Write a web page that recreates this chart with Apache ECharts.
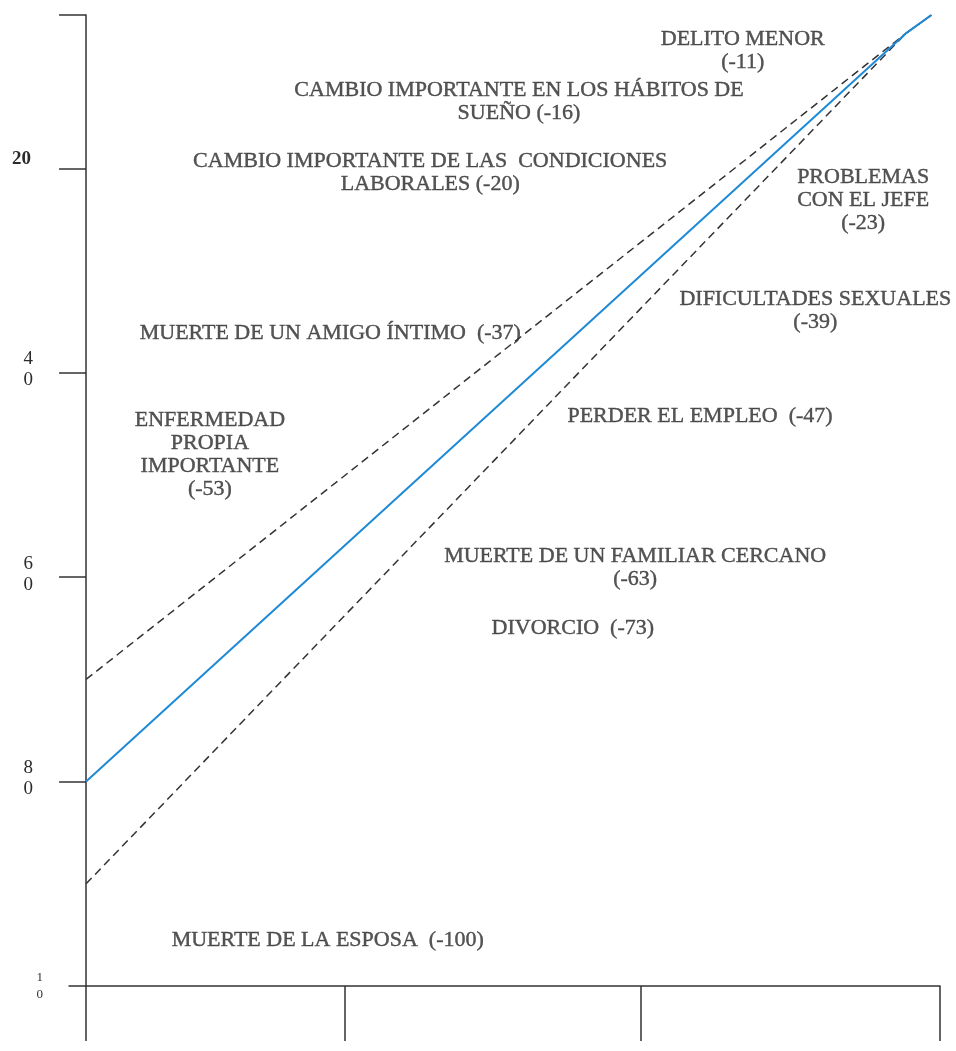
<!DOCTYPE html>
<html>
<head>
<meta charset="utf-8">
<script src="https://cdn.jsdelivr.net/npm/echarts@6/dist/echarts.min.js"></script>
<style>
html,body{margin:0;padding:0;background:#fff;}
#chart{width:956px;height:1051px;}
</style>
</head>
<body>
<div id="chart"></div>
<script>
// Line data (x: horizontal position 0..100, y: inverted scale value)
var lineX = [0, 96, 99];
var solidLine = [80, 6.8, 5];
var upperDashed = [70, 6.8, 5];
var lowerDashed = [90, 6.8, 5];

// Axis ticks / labels
var yTickValues = [5, 20, 40, 60, 80];
var yLabelValues = [20, 40, 60, 80, 100];
var yLabelTexts = ['20', '4\n0', '6\n0', '8\n0', '1\n0'];
var xTickValues = [0, 30.3, 65, 100];

// Annotations
var annTexts = [
  'DELITO MENOR\n(-11)',
  'CAMBIO IMPORTANTE EN LOS HÁBITOS DE\nSUEÑO (-16)',
  'CAMBIO IMPORTANTE DE LAS  CONDICIONES\nLABORALES (-20)',
  'PROBLEMAS\nCON EL JEFE\n(-23)',
  'DIFICULTADES SEXUALES\n(-39)',
  'MUERTE DE UN AMIGO ÍNTIMO  (-37)',
  'ENFERMEDAD\nPROPIA\nIMPORTANTE\n(-53)',
  'PERDER EL EMPLEO  (-47)',
  'MUERTE DE UN FAMILIAR CERCANO\n(-63)',
  'DIVORCIO  (-73)',
  'MUERTE DE LA ESPOSA  (-100)'
];
var annX = [76.9, 50.7, 40.3, 91.0, 85.4, 28.6, 14.5, 71.9, 64.3, 57.0, 28.3];
var annY = [8.5, 13.5, 20.4, 23.1, 33.9, 36.1, 48.0, 44.3, 59.1, 65.0, 95.5];

function pairs(xs, ys) { return xs.map(function (x, i) { return [x, ys[i]]; }); }

var chart = echarts.init(document.getElementById('chart'), null, {renderer: 'canvas'});
var axisColor = '#333';
var textColor = '#2b2b2b';
chart.setOption({
  backgroundColor: '#ffffff',
  animation: false,
  grid: {left: 69, right: 16, top: 15, bottom: 65, containLabel: false, outerBoundsMode: 'none'},
  xAxis: {
    type: 'value', min: -2, max: 100, position: 'bottom',
    axisLine: {show: true, onZero: false, lineStyle: {color: axisColor, width: 1.5}},
    axisTick: {show: true, customValues: xTickValues, length: 55, inside: false, lineStyle: {color: axisColor, width: 1.5}},
    axisLabel: {show: false},
    splitLine: {show: false}
  },
  yAxis: {
    type: 'value', inverse: true, min: 5, max: 100,
    axisLine: {show: true, onZero: true, lineStyle: {color: axisColor, width: 1.5}},
    axisTick: {show: true, customValues: yTickValues, length: 27, inside: false, lineStyle: {color: axisColor, width: 1.5}},
    axisLabel: {
      show: true, customValues: yLabelValues, margin: 26,
      formatter: function (v) {
        var i = yLabelValues.indexOf(v);
        var t = i >= 0 ? yLabelTexts[i] : '';
        if (v === 20) return '{a|' + t + '}';
        if (v === 100) return '{c|' + t + '}';
        return '{b|' + t + '}';
      },
      rich: {
        a: {fontFamily: 'Liberation Serif', fontSize: 19, fontWeight: 'bold', color: textColor, padding: [0, 12, 18, 0]},
        b: {fontFamily: 'Liberation Serif', fontSize: 19, color: textColor, lineHeight: 21, padding: [0, 10, 6, 0]},
        c: {fontFamily: 'Liberation Serif', fontSize: 13, color: '#333', lineHeight: 17, padding: [0, 0, 0, 0]}
      }
    },
    splitLine: {show: false}
  },
  series: [
    {
      type: 'line', data: pairs(lineX, upperDashed), symbol: 'none', silent: true,
      lineStyle: {color: '#333', width: 1.5, type: [8, 5]}
    },
    {
      type: 'line', data: pairs(lineX, lowerDashed), symbol: 'none', silent: true,
      lineStyle: {color: '#333', width: 1.5, type: [8, 5]}
    },
    {
      type: 'line', data: pairs(lineX, solidLine), symbol: 'none', silent: true,
      lineStyle: {color: '#1e8ad6', width: 2}
    },
    {
      type: 'scatter', symbolSize: 0, silent: true,
      data: annTexts.map(function (t, i) { return {name: t, value: [annX[i], annY[i]]}; }),
      label: {
        show: true, position: 'inside', formatter: function (p) { return p.name; },
        fontFamily: 'Liberation Serif', fontSize: 22, color: textColor, lineHeight: 23,
        textBorderColor: textColor, textBorderWidth: 0.4,
        align: 'center', verticalAlign: 'middle'
      }
    }
  ]
});
</script>
</body>
</html>
